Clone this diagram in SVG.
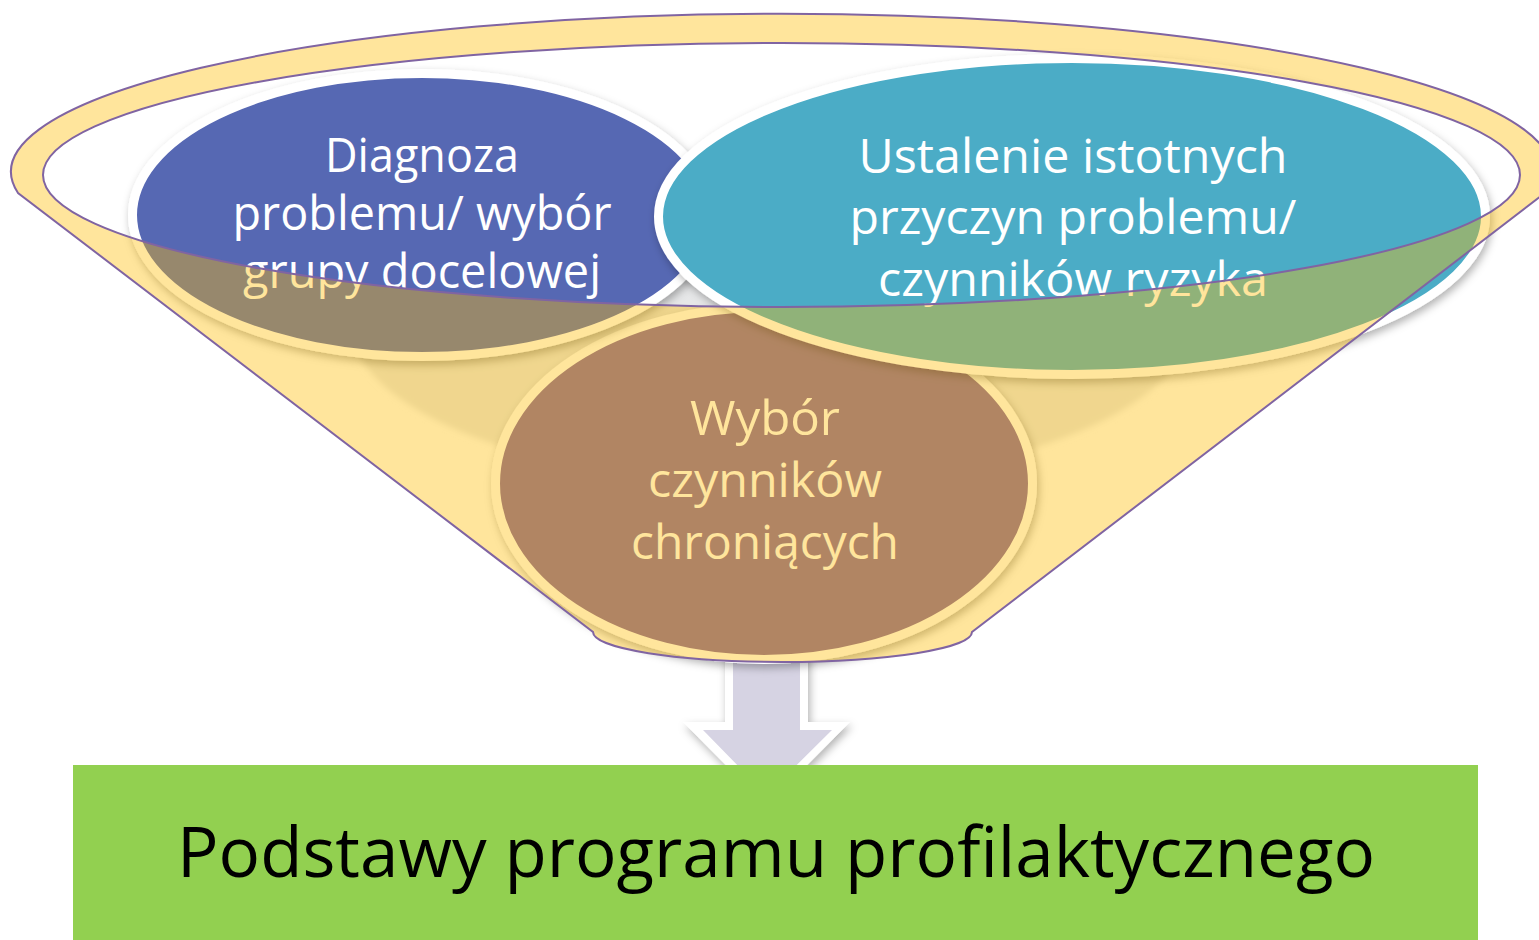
<svg xmlns="http://www.w3.org/2000/svg" width="1539" height="940" viewBox="0 0 1539 940">
<defs>
<filter id="sh" x="-10%" y="-10%" width="125%" height="130%">
<feDropShadow dx="2" dy="4" stdDeviation="4" flood-color="#000" flood-opacity="0.3"/>
</filter>
<filter id="soft" x="-10%" y="-10%" width="120%" height="120%">
<feGaussianBlur stdDeviation="3"/>
</filter>
</defs>
<style>
.ct{font-family:"Open Sans","Noto Sans","Liberation Sans",sans-serif;font-size:47px;fill:#ffffff;text-anchor:middle}
.bt{font-family:"Open Sans","Noto Sans","Liberation Sans",sans-serif;font-size:70px;fill:#000000;text-anchor:middle}
.circ{stroke:#ffffff;stroke-width:9}
.funnel{fill:#FFBC00;fill-opacity:0.39;fill-rule:evenodd;stroke:#8064A2;stroke-width:2}
</style>
<rect width="1539" height="940" fill="#ffffff"/>

<g id="connectors">
<g id="arrow" filter="url(#sh)">
<polygon points="725,640 808,640 808,722 850,722 766.5,806 683,722 725,722" fill="#ffffff"/>
<polygon points="733,640 800,640 800,730 832,730 766.5,795 703,730 733,730" fill="#D6D3E3"/>
</g>
</g>

<g id="result">
<rect x="73" y="765" width="1405" height="175" fill="#92D050"/>
<text class="bt" x="776" y="877" textLength="1198" lengthAdjust="spacingAndGlyphs">Podstawy programu profilaktycznego</text>
</g>

<ellipse id="funnel-shadow" cx="770" cy="322" rx="420" ry="162" fill="#E6E7E8" filter="url(#soft)"/>

<g id="node-wybor">
<ellipse class="circ" cx="764" cy="483.5" rx="268.5" ry="176" fill="#8064A2" filter="url(#sh)"/>
<text class="ct" x="765" y="435" textLength="150" lengthAdjust="spacingAndGlyphs">Wybór</text>
<text class="ct" x="765" y="497" textLength="234" lengthAdjust="spacingAndGlyphs">czynników</text>
<text class="ct" x="765" y="559" textLength="268" lengthAdjust="spacingAndGlyphs">chroniących</text>
</g>

<g id="node-diagnoza">
<ellipse class="circ" cx="422" cy="215" rx="289.5" ry="141.5" fill="#5767B3" filter="url(#sh)"/>
<text class="ct" x="422" y="172" textLength="194" lengthAdjust="spacingAndGlyphs">Diagnoza</text>
<text class="ct" x="422" y="230" textLength="379" lengthAdjust="spacingAndGlyphs">problemu/ wybór</text>
<text class="ct" x="422" y="288" textLength="358" lengthAdjust="spacingAndGlyphs">grupy docelowej</text>
</g>

<g id="node-ustalenie">
<ellipse class="circ" cx="1072" cy="216.5" rx="413.5" ry="158" fill="#4BACC6" filter="url(#sh)"/>
<text class="ct" x="1073" y="173" textLength="429" lengthAdjust="spacingAndGlyphs">Ustalenie istotnych</text>
<text class="ct" x="1073" y="234" textLength="447" lengthAdjust="spacingAndGlyphs">przyczyn problemu/</text>
<text class="ct" x="1073" y="296" textLength="390" lengthAdjust="spacingAndGlyphs">czynników ryzyka</text>
</g>

<g id="funnel">
<path class="funnel" d="M18,193 A770.5,158 0 1 1 1545,193 L972,632 A189.5,30 0 0 1 593,632 Z M43,175 A738.5,132 0 1 0 1520,175 A738.5,132 0 1 0 43,175 Z"/>
</g>
</svg>
